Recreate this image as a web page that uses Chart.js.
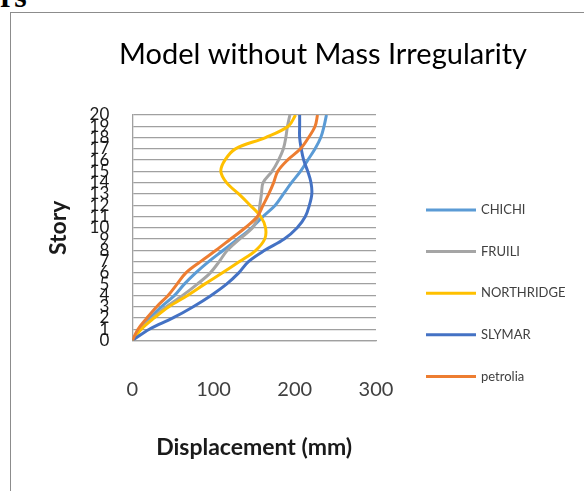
<!DOCTYPE html>
<html>
<head>
<meta charset="utf-8">
<script src="https://cdn.jsdelivr.net/npm/chart.js@4.4.1/dist/chart.umd.min.js"></script>
<style>
  html, body { margin: 0; padding: 0; background: #fff; }
  body { width: 584px; height: 491px; position: relative; overflow: hidden; }
  #frame { position: absolute; left: 10px; top: 12px; width: 600px; height: 500px;
           border-left: 1px solid #8c8c8c; border-top: 1px solid #8c8c8c; }
  #cut { position: absolute; left: 0; top: -20px; font: bold 32px/32px "Liberation Serif", serif; color: #000; }
  canvas { position: absolute; left: 0; top: 0; }
</style>
</head>
<body>
<div id="cut">rs</div>
<div id="frame"></div>
<canvas id="chart" width="584" height="491"></canvas>
<script>
// storey levels (y) and peak displacement per storey in mm (x)
const stories = [0, 1, 2, 3, 4, 5, 6, 7, 8, 9, 10, 11, 12, 13, 14, 15, 16, 17, 18, 19, 20];
const chichi = [0, 10, 22, 36, 52, 64, 78, 94, 112, 130, 147, 161, 176, 186, 196, 207, 216, 225, 232, 236, 239];
const fruili = [0, 10, 25, 42, 62, 80, 96, 107, 117, 132, 148, 155, 157, 159, 161, 172, 180, 186, 189, 191, 194];
const northridge = [0, 11, 27, 45, 68, 89, 111, 132, 152, 163, 164, 158, 145, 131, 116, 109, 114, 127, 164, 192, 201];
const slymar = [0, 21, 50, 75, 97, 116, 131, 143, 163, 187, 203, 213, 218, 221, 220, 216, 211, 208, 206, 206, 206];
const petrolia = [0, 7, 18, 30, 44, 55, 66, 84, 103, 121, 139, 154, 161, 168, 174, 179, 191, 207, 217, 225, 228];

const seriesNames = ['CHICHI', 'FRUILI', 'NORTHRIDGE', 'SLYMAR', 'petrolia'];
const seriesValues = [chichi, fruili, northridge, slymar, petrolia];
const colors = ['#5B9BD5', '#A5A5A5', '#FFC000', '#4472C4', '#ED7D31'];

const titleText = 'Model without Mass Irregularity';
const fontName = 'Lato';

// chart title sits over the whole picture, not over the plot area
const topTitle = {
  id: 'topTitle',
  afterDraw(chart) {
    const ctx = chart.ctx;
    ctx.save();
    ctx.font = '29px ' + fontName;
    ctx.fillStyle = '#000';
    ctx.textAlign = 'center';
    ctx.textBaseline = 'middle';
    ctx.fillText(titleText, 323, 55);
    ctx.restore();
  }
};

// legend column on the right, like the excel one
const sideLegend = {
  id: 'sideLegend',
  afterDraw(chart) {
    const ctx = chart.ctx;
    ctx.save();
    ctx.font = '13px ' + fontName;
    ctx.textBaseline = 'middle';
    ctx.textAlign = 'left';
    chart.data.datasets.forEach((ds, i) => {
      const y = 210 + i * 41.6;
      ctx.strokeStyle = ds.borderColor;
      ctx.lineWidth = 3;
      ctx.beginPath();
      ctx.moveTo(426, y);
      ctx.lineTo(476, y);
      ctx.stroke();
      ctx.fillStyle = '#404040';
      ctx.fillText(ds.label, 481, y);
    });
    ctx.restore();
  }
};

const datasets = [];
for (let i = 0; i < seriesNames.length; i++) {
  datasets.push({
    label: seriesNames[i],
    data: seriesValues[i].map((v, j) => ({ x: v, y: stories[j] })),
    borderColor: colors[i],
    backgroundColor: colors[i],
    borderWidth: 3,
    pointRadius: 0,
    showLine: true,
    tension: 0.35,
    order: seriesNames.length - i
  });
}

new Chart(document.getElementById('chart'), {
  type: 'scatter',
  data: { datasets: datasets },
  options: {
    responsive: false,
    animation: false,
    devicePixelRatio: 1,
    layout: { padding: { left: 41, top: 115, right: 208, bottom: 20 } },
    plugins: {
      legend: { display: false },
      title: { display: false },
      tooltip: { enabled: false }
    },
    scales: {
      x: {
        type: 'linear',
        min: 0,
        max: 300,
        afterFit: (scale) => { scale.height = 130.5; },
        grid: { display: false, drawTicks: false },
        border: { display: true, color: '#a0a0a0', width: 1.3 },
        ticks: {
          stepSize: 100,
          padding: 37,
          color: '#404040',
          font: { family: fontName, size: 20 }
        },
        title: {
          display: true,
          text: 'Displacement (mm)',
          color: '#1a1a1a',
          font: { family: fontName, size: 23, weight: 'bold' },
          padding: { top: 4, bottom: 10 }
        }
      },
      y: {
        type: 'linear',
        min: 0,
        max: 20,
        afterFit: (scale) => { scale.width = 91.3; },
        grid: { color: '#a0a0a0', lineWidth: 1.3, drawTicks: false },
        border: { display: true, color: '#a0a0a0', width: 1.3 },
        ticks: {
          stepSize: 1,
          autoSkip: false,
          padding: 23,
          color: '#1a1a1a',
          font: { family: fontName, size: 17 }
        },
        title: {
          display: true,
          text: 'Story',
          color: '#1a1a1a',
          font: { family: fontName, size: 23, weight: 'bold' },
          padding: { top: 4, bottom: 4 }
        }
      }
    }
  },
  plugins: [topTitle, sideLegend]
});
</script>
</body>
</html>
